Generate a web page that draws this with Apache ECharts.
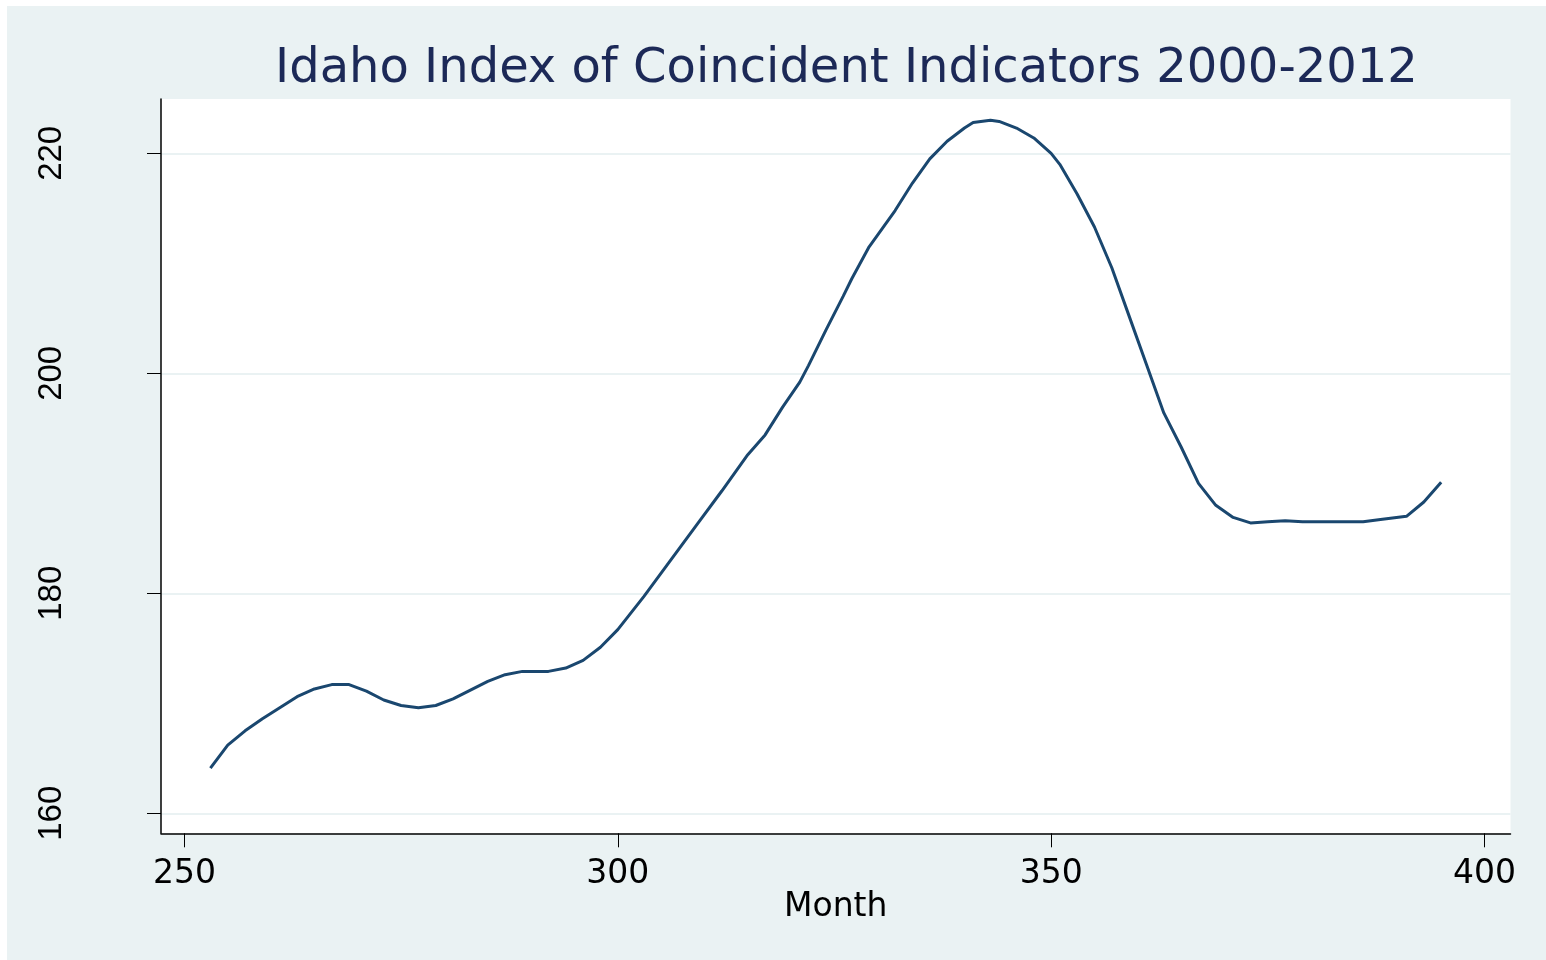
<!DOCTYPE html>
<html>
<head>
<meta charset="utf-8">
<script src="https://cdn.jsdelivr.net/npm/echarts@6/dist/echarts.min.js"></script>
<style>
  html, body { margin: 0; padding: 0; background: #fff; }
  #chart { width: 1546px; height: 960px; }
</style>
</head>
<body>
<div id="chart"></div>
<script>
// month number (x) and index value (y)
var months = [253, 255, 257, 259, 261, 263, 265, 267, 269, 271, 273, 275, 277, 279, 281, 283, 285, 287, 289, 292,
  294, 296, 298, 300, 303, 306, 309, 312, 315, 317, 319, 321, 322, 324, 326, 327, 329, 332, 334, 336,
  338, 340, 341, 343, 344, 346, 348, 350, 351, 353, 355, 357, 359, 361, 363, 365, 367, 369, 371, 373,
  375, 377, 379, 386, 388, 391, 393, 395]
var indexValues = [164.1, 166.2, 167.5, 168.6, 169.6, 170.6, 171.3, 171.7, 171.7, 171.1, 170.3, 169.8, 169.6, 169.8, 170.4, 171.2, 172.0, 172.6, 172.9, 172.9,
  173.2, 173.9, 175.1, 176.7, 179.7, 182.9, 186.1, 189.3, 192.6, 194.4, 196.9, 199.2, 200.7, 203.9, 207.0, 208.6, 211.5, 214.8, 217.3, 219.5,
  221.1, 222.3, 222.8, 223.0, 222.9, 222.3, 221.4, 220.0, 219.0, 216.3, 213.3, 209.6, 205.2, 200.8, 196.4, 193.3, 190.0, 188.0, 186.9, 186.4,
  186.5, 186.6, 186.5, 186.5, 186.7, 187.0, 188.3, 190.1]
var xTicks = [250, 300, 350, 400]
var yTicks = [160, 180, 200, 220]

var chartTitle = 'Idaho Index of Coincident Indicators 2000-2012'
var xName = 'Month'

var seriesData = []
for (let i = 0; i < months.length; i++) {
  seriesData.push([months[i], indexValues[i]])
}

var myChart = echarts.init(document.getElementById('chart'))

var option = {
  backgroundColor: '#ffffff',
  animation: false,
  graphic: [
    {
      type: 'rect',
      z: -10,
      silent: true,
      shape: { x: 7, y: 6, width: 1539, height: 954 },
      style: { fill: '#eaf2f3' }
    }
  ],
  title: {
    text: chartTitle,
    left: 270,
    top: 41,
    textStyle: {
      color: '#1c2957',
      fontFamily: 'DejaVu Sans',
      fontSize: 48,
      fontWeight: 'normal'
    }
  },
  grid: {
    left: 161,
    top: 99,
    right: 35.5,
    bottom: 126.7,
    show: true,
    backgroundColor: '#ffffff',
    borderWidth: 0
  },
  xAxis: {
    type: 'value',
    min: 247.3,
    max: 403,
    name: xName,
    nameLocation: 'middle',
    nameGap: 58,
    nameMoveOverlap: false,
    nameTextStyle: {
      color: '#000',
      fontFamily: 'DejaVu Sans',
      fontSize: 33
    },
    axisLine: { show: true, onZero: false, lineStyle: { color: '#000', width: 1.5 } },
    axisTick: { show: true, length: 14, customValues: xTicks, lineStyle: { color: '#000', width: 1 } },
    axisLabel: {
      customValues: xTicks,
      margin: 25,
      color: '#000',
      fontFamily: 'DejaVu Sans',
      fontSize: 33
    },
    splitLine: { show: false }
  },
  yAxis: {
    type: 'value',
    min: 158.18,
    max: 224.94,
    axisLine: { show: true, onZero: false, lineStyle: { color: '#000', width: 1.5 } },
    axisTick: { show: true, length: 14, customValues: yTicks, lineStyle: { color: '#000', width: 1 } },
    axisLabel: {
      customValues: yTicks,
      rotate: 90,
      margin: 93,
      color: '#000',
      fontFamily: 'Liberation Sans',
      fontSize: 33
    },
    splitLine: { show: true, lineStyle: { color: '#eaf2f3', width: 2 } }
  },
  series: [
    {
      type: 'line',
      data: seriesData,
      showSymbol: false,
      smooth: false,
      lineStyle: { color: '#1a476f', width: 3 },
      itemStyle: { color: '#1a476f' }
    }
  ]
}

myChart.setOption(option)
</script>
</body>
</html>
